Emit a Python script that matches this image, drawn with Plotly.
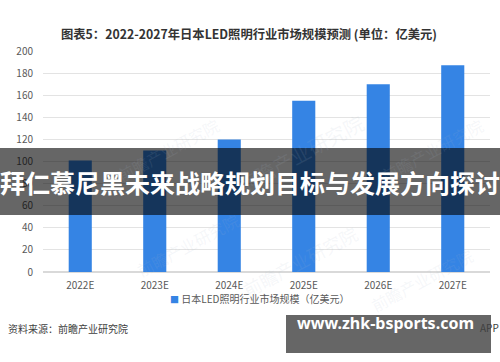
import plotly.graph_objects as go

categories = ["2022E", "2023E", "2024E", "2025E", "2026E", "2027E"]
values = [101, 110, 120, 155, 170, 187]
y_ticks = [0, 20, 40, 60, 80, 100, 120, 140, 160, 180, 200]

title_text = "图表5：2022-2027年日本LED照明行业市场规模预测 (单位：亿美元)"
series_name = "日本LED照明行业市场规模（亿美元）"
source_text = "资料来源：前瞻产业研究院"
banner_text = "拜仁慕尼黑未来战略规划目标与发展方向探讨"
site_text = "www.zhk-bsports.com"
watermark_text = "前瞻产业研究院"
bar_color = "#3584e4"

W, H = 500, 362
L, R, T, B = 43, 10, 51, 90
PW, PH = W - L - R, H - T - B

def px(x):
    return (x - L) / PW

def py(y):
    return (H - B - y) / PH

FONT = "Noto Sans CJK SC"

fig = go.Figure()
fig.add_trace(go.Bar(
    x=categories, y=values, name=series_name,
    marker=dict(color=bar_color, line=dict(width=0)),
    width=0.31, showlegend=False,
))

fig.update_layout(
    width=W, height=H,
    margin=dict(l=L, r=R, t=T, b=B),
    paper_bgcolor="white", plot_bgcolor="white",
    font=dict(family=FONT, color="#595959", size=10),
    showlegend=False,
    xaxis=dict(showgrid=False, showline=False, ticks="", ticklabelstandoff=6,
               tickfont=dict(size=10, color="#595959", family=FONT)),
    yaxis=dict(range=[0, 200], tickvals=y_ticks, showgrid=True, gridcolor="#e3e3e3",
               gridwidth=1, zeroline=True, zerolinecolor="#d9d9d9", showline=False,
               ticks="", ticklabelstandoff=9, tickfont=dict(size=10, color="#595959", family=FONT)),
    bargap=0.69,
)

annotations = []
# faint watermarks
for (wx, wy, s) in [(110, 110, 16), (300, 105, 20), (490, 110, 16), (130, 285, 16), (300, 305, 18), (480, 320, 16)]:
    annotations.append(dict(x=px(wx), y=py(wy), xref="paper", yref="paper", text=watermark_text,
                            showarrow=False, textangle=-28,
                            font=dict(size=s, color="rgba(170,185,205,0.12)", family=FONT)))
annotations.append(dict(x=px(249), y=py(23), xref="paper", yref="paper", text="<b>" + title_text + "</b>",
                        showarrow=False, font=dict(size=12.3, color="#333333", family=FONT)))
annotations.append(dict(x=px(168), y=py(308), xref="paper", yref="paper", xanchor="left",
                        text="<span style='color:" + bar_color + ";font-size:9px'>■</span> " + series_name,
                        showarrow=False, font=dict(size=10, color="#595959", family=FONT)))
annotations.append(dict(x=px(6), y=py(338), xref="paper", yref="paper", text=source_text,
                        showarrow=False, xanchor="left", font=dict(size=10, color="#404040", family=FONT)))
annotations.append(dict(x=px(501), y=py(337), xref="paper", yref="paper", text="APP",
                        showarrow=False, xanchor="right", font=dict(size=10, color="#404040", family=FONT)))
fig.update_layout(annotations=annotations)

shapes = [
    dict(type="rect", xref="paper", yref="paper", x0=px(0), x1=px(500), y0=py(215), y1=py(148),
         fillcolor="rgba(0,0,0,0.6)", line=dict(width=0), layer="above"),
    dict(type="rect", xref="paper", yref="paper", x0=px(286), x1=px(491), y0=py(353), y1=py(315),
         fillcolor="rgba(0,0,0,0.6)", line=dict(width=0), layer="above"),
]
fig.update_layout(shapes=shapes)

fig.add_annotation(x=px(250), y=py(182), xref="paper", yref="paper", text="<b>" + banner_text + "</b>",
                   showarrow=False, font=dict(size=25, color="white", family=FONT))
fig.add_annotation(x=px(295), y=py(336), xref="paper", yref="paper", xanchor="left",
                   text="<b>" + site_text + "</b>",
                   showarrow=False, font=dict(size=16, color="white", family="Noto Sans"))

fig.write_html("out.html")
